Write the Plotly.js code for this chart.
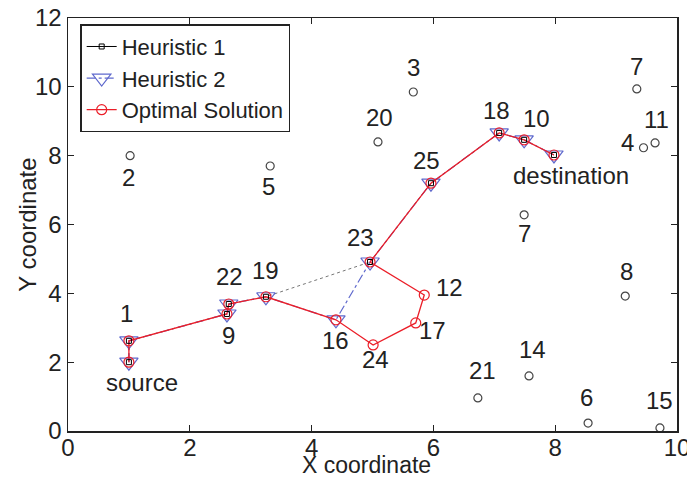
<!DOCTYPE html>
<html><head><meta charset="utf-8">
<script src="https://cdn.plot.ly/plotly-3.0.1.min.js"></script>
<style>html,body{margin:0;padding:0;background:#fff}#chart{width:687px;height:479px}</style>
</head><body><div id="chart"></div>
<script>
// Node identifiers, coordinates and labels
const nodeKeys   = ['S','1','9','22','19','16','24','17','12','23','25','18','10','D','3','20','2','5','7b','7a','11','4','8','21','14','6','15'];
const nodeX      = [1.0,1.0,2.61,2.64,3.25,4.40,5.01,5.71,5.85,4.96,5.96,7.08,7.49,7.98,5.67,5.09,1.02,3.32,7.49,9.34,9.64,9.45,9.15,6.73,7.57,8.54,9.72];
const nodeY      = [2.0,2.62,3.40,3.69,3.90,3.23,2.50,3.14,3.95,4.91,7.20,8.66,8.46,8.02,9.85,8.40,8.00,7.70,6.28,9.94,8.37,8.23,3.92,0.96,1.60,0.23,0.09];
const nodeLabels = ['source','1','9','22','19','16','24','17','12','23','25','18','10','destination','3','20','2','5','7','7','11','4','8','21','14','6','15'];

// Routes (sequences of node keys)
const heuristic1Path = ['S','1','9','22','19','23','25','18','10','D'];
const heuristic2Path = ['S','1','9','22','19','16','23','25','18','10','D'];
const optimalPath    = ['S','1','9','22','19','16','24','17','12','23','25','18','10','D'];
const otherNodes     = ['3','20','2','5','7b','7a','11','4','8','21','14','6','15'];

// Tick labels and axis titles
const xTicks = [0,2,4,6,8,10];
const yTicks = [0,2,4,6,8,10,12];
const xTitle = 'X coordinate';
const yTitle = 'Y coordinate';

// Label offsets (pixels) – styling only
const labelShift = {
  'S':[13,-20],'1':[-2,27],'9':[2,-22],'22':[1,28],'19':[0,26],'16':[0,-21],'24':[2,-15],
  '17':[17,-8],'12':[25,8],'23':[-10,25],'25':[-4,23],'18':[-3,22],'10':[12,21],'D':[17,-21],
  '3':[0,25],'20':[2,24],'2':[-2,-22],'5':[-2,-21],'7b':[0,-19],'7a':[0,22],'11':[1,23],
  '4':[-16,5],'8':[1,25],'21':[5,27],'14':[3,26],'6':[-2,26],'15':[0,27]
};

const idx = k => nodeKeys.indexOf(k);
const px = path => path.map(k => nodeX[idx(k)]);
const py = path => path.map(k => nodeY[idx(k)]);

const FONT = 'Liberation Sans, Arial, sans-serif';
const FS = 24;
const TXT = '#222';
const blue = 'rgb(95,105,205)';
const red = 'rgb(235,30,40)';

const traces = [
  // legend entry for Heuristic 1 (solid black line with square)
  {x:[null], y:[null], name:'Heuristic 1', mode:'lines+markers',
   line:{color:'#000', width:1}, marker:{symbol:'square-open', size:5, color:'#000', line:{width:1}}},
  {x:px(heuristic1Path), y:py(heuristic1Path), mode:'lines', showlegend:false,
   line:{color:'#777', width:1, dash:'dot'}},
  {x:px(heuristic2Path), y:py(heuristic2Path), name:'Heuristic 2', mode:'lines+markers',
   line:{color:blue, width:1.2, dash:'dashdot'}, marker:{symbol:'triangle-down-open', size:16, color:blue, line:{width:1.2}}},
  {x:px(optimalPath), y:py(optimalPath), name:'Optimal Solution', mode:'lines+markers',
   line:{color:red, width:1.3}, marker:{symbol:'circle-open', size:10, color:red, line:{width:1.2}}},
  {x:px(heuristic1Path), y:py(heuristic1Path), mode:'markers', showlegend:false,
   marker:{symbol:'square-open', size:5, color:'#000', line:{width:1}}},
  {x:px(otherNodes), y:py(otherNodes), mode:'markers', showlegend:false,
   marker:{symbol:'circle-open', size:8, color:'#444', line:{width:1.2}}}
];

const annotations = nodeKeys.map((k,i) => ({
  x:nodeX[i], y:nodeY[i], text:nodeLabels[i], showarrow:false,
  xshift:labelShift[k][0], yshift:labelShift[k][1],
  font:{family:FONT, size:FS, color:TXT}
}));
annotations.push({xref:'paper', yref:'paper', x:-0.067, y:0.5, xanchor:'center', yanchor:'middle',
  text:yTitle, textangle:-90, showarrow:false, font:{family:FONT, size:FS, color:TXT}});
annotations.push({xref:'paper', yref:'paper', x:0.49, y:0, xanchor:'center', yanchor:'middle', yshift:-34,
  text:xTitle, showarrow:false, font:{family:FONT, size:23, color:TXT}, borderpad:0});

const axisCommon = {
  showgrid:false, zeroline:false, showline:true, mirror:'ticks', linecolor:'#222', linewidth:1.5,
  ticks:'inside', ticklen:6, tickcolor:'#222', tickwidth:1, ticklabeloverflow:'allow',
  tickfont:{family:FONT, size:FS, color:TXT}
};

const layout = {
  width:687, height:479,
  margin:{l:68, r:10, t:18, b:48},
  paper_bgcolor:'#fff', plot_bgcolor:'#fff',
  xaxis:Object.assign({}, axisCommon, {range:[0,10], tickvals:xTicks, ticktext:xTicks.map(String), ticklabelstandoff:-5}),
  yaxis:Object.assign({}, axisCommon, {range:[0,12], tickvals:yTicks, ticktext:yTicks.map(String)}),
  showlegend:true,
  legend:{x:0.02, y:0.985, xanchor:'left', yanchor:'top', bgcolor:'#fff', bordercolor:'#222', borderwidth:1.5,
    font:{family:FONT, size:22, color:TXT}, tracegroupgap:0, itemwidth:30},
  annotations:annotations
};

Plotly.newPlot('chart', traces, layout, {displayModeBar:false, staticPlot:true});
</script></body></html>
